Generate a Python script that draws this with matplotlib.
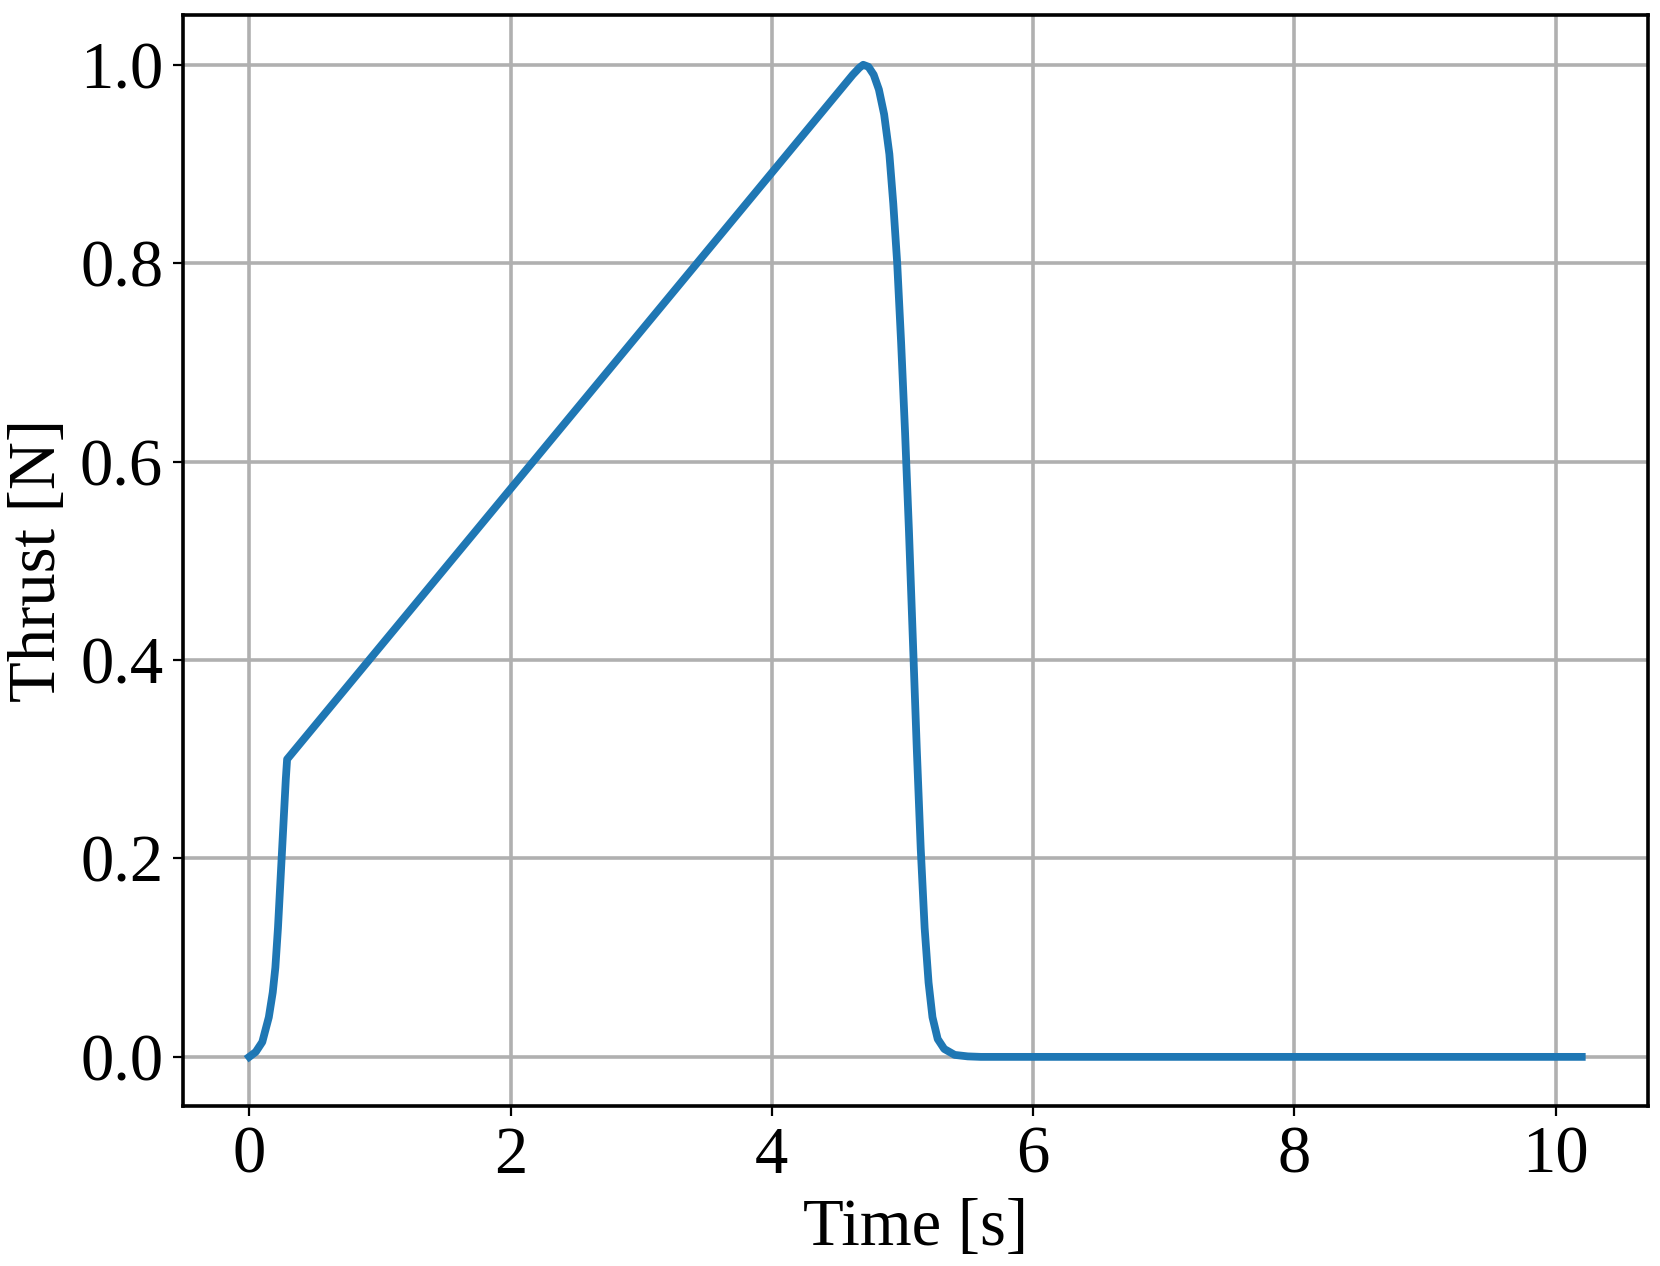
import matplotlib.pyplot as plt

# Thrust profile
time = [0.0, 0.05, 0.1, 0.15, 0.18, 0.2, 0.22, 0.24, 0.26, 0.28, 0.29, 4.62, 4.67, 4.7, 4.74, 4.78,
        4.82, 4.86, 4.9, 4.93, 4.96, 4.99, 5.02, 5.05, 5.08, 5.11, 5.14, 5.17, 5.2, 5.23,
        5.27, 5.32, 5.4, 5.5, 5.6, 10.2]
thrust = [0.0, 0.005, 0.015, 0.04, 0.065, 0.09, 0.13, 0.18, 0.23, 0.28, 0.30, 0.99, 0.997, 1.0, 0.998, 0.99,
          0.975, 0.95, 0.91, 0.86, 0.8, 0.72, 0.63, 0.53, 0.42, 0.31, 0.21, 0.13, 0.075, 0.04,
          0.018, 0.008, 0.002, 0.0005, 0.0, 0.0]

plt.rcParams['font.family'] = ['Liberation Serif', 'Times New Roman', 'DejaVu Serif']
plt.rcParams['mathtext.fontset'] = 'stix'
plt.rcParams['font.size'] = 24

fig, ax = plt.subplots(figsize=(8.3, 6.33), dpi=200)
ax.plot(time, thrust, color='#1f77b4', linewidth=2.8)
ax.set_xlabel('Time [s]')
ax.set_ylabel('Thrust [N]')
ax.grid(True, color='#b0b0b0', linewidth=1.3)
ax.set_xticks([0, 2, 4, 6, 8, 10])
ax.set_yticks([0.0, 0.2, 0.4, 0.6, 0.8, 1.0])
for s in ax.spines.values():
    s.set_linewidth(1.3)
fig.subplots_adjust(left=0.11, right=0.993, top=0.988, bottom=0.126)
fig.savefig('out.png')
